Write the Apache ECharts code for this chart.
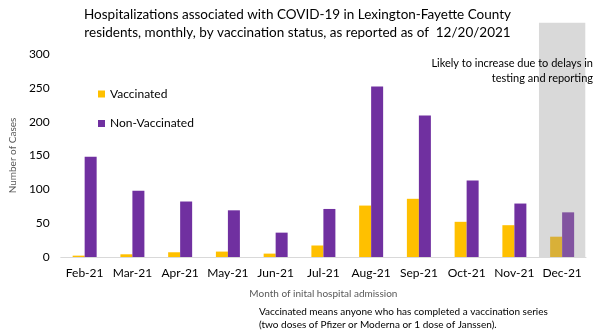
<!DOCTYPE html>
<html>
<head>
<meta charset="utf-8">
<script src="https://cdn.jsdelivr.net/npm/echarts@6/dist/echarts.min.js"></script>
<style>
html,body{margin:0;padding:0;background:#fff;}
#c{width:595px;height:332px;}
</style>
</head>
<body>
<div id="c"></div>
<script>
var months = ['Feb-21','Mar-21','Apr-21','May-21','Jun-21','Jul-21','Aug-21','Sep-21','Oct-21','Nov-21','Dec-21'];
var vaccinated = [2, 4, 7, 8, 5, 17, 76, 86, 52, 47, 30];
var nonVaccinated = [148, 98, 82, 69, 36, 71, 252, 209, 113, 79, 66];
var yTicks = [0, 50, 100, 150, 200, 250, 300];
var shadeMonth = 'Dec-21';
var shadeTop = 346;

var FONT = 'Lato';
var chart = echarts.init(document.getElementById('c'), null, {renderer:'canvas'});

var lastIdx = months.indexOf(shadeMonth);
function styled(arr, normal, faded){
  return arr.map(function(v,i){
    return i === lastIdx ? {value:v, itemStyle:{color:faded}} : {value:v, itemStyle:{color:normal}};
  });
}
var shade = months.map(function(m){ return m === shadeMonth ? shadeTop : null; });

chart.setOption({
  backgroundColor:'#fff',
  animation:false,
  textStyle:{fontFamily:FONT},
  title:[
    {text:'Hospitalizations associated with COVID-19 in Lexington-Fayette County', left:'center', top:3,
     textStyle:{fontFamily:FONT, fontSize:13.5, fontWeight:'normal', color:'#000'}},
    {text:'residents, monthly, by vaccination status, as reported as of  12/20/2021', left:'center', top:21,
     textStyle:{fontFamily:FONT, fontSize:13.5, fontWeight:'normal', color:'#000'}},
    {text:'Likely to increase due to delays in', left:588, top:53, textAlign:'right',
     textStyle:{fontFamily:FONT, fontSize:11, fontWeight:'normal', color:'#000'}},
    {text:'testing and reporting', left:588, top:68, textAlign:'right',
     textStyle:{fontFamily:FONT, fontSize:11, fontWeight:'normal', color:'#000'}},
    {text:'Vaccinated means anyone who has completed a vaccination series', left:254, top:302,
     textStyle:{fontFamily:FONT, fontSize:10, fontWeight:'normal', color:'#000'}},
    {text:'(two doses of Pfizer or Moderna or 1 dose of Janssen).', left:254, top:315,
     textStyle:{fontFamily:FONT, fontSize:10, fontWeight:'normal', color:'#000'}}
  ],
  legend:{
    orient:'vertical', left:93, top:83, itemWidth:7, itemHeight:7, itemGap:17.5,
    icon:'rect',
    data:['Vaccinated','Non-Vaccinated'],
    textStyle:{fontFamily:FONT, fontSize:12, color:'#000'}
  },
  grid:{left:55, right:9, top:54, bottom:75, containLabel:false},
  xAxis:[{
    type:'category', data:months,
    axisLine:{lineStyle:{color:'#D9D9D9'}},
    axisTick:{show:false},
    axisLabel:{fontFamily:FONT, fontSize:12, color:'#000', margin:10, interval:0},
    name:'Month of inital hospital admission', nameLocation:'middle', nameGap:32,
    nameTextStyle:{fontFamily:FONT, fontSize:10, color:'#595959'}
  },{
    type:'category', data:months, show:false
  }],
  yAxis:{
    type:'value', min:0, max:300, interval:50,
    axisLine:{show:false}, axisTick:{show:false},
    splitLine:{show:false},
    axisLabel:{fontFamily:FONT, fontSize:12, color:'#000', margin:11},
    name:'Number of Cases', nameLocation:'middle', nameGap:35,
    nameTextStyle:{fontFamily:FONT, fontSize:10, color:'#595959'}
  },
  series:[
    {name:'shade', type:'bar', xAxisIndex:1, data:shade, barWidth:'97%', clip:false, z:0,
     itemStyle:{color:'#D9D9D9'}, silent:true, legendHoverLink:false},
    {name:'Vaccinated', type:'bar', data:styled(vaccinated,'#FFC000','#D9B038'), barWidth:12, barGap:'0%', z:2,
     itemStyle:{color:'#FFC000'}},
    {name:'Non-Vaccinated', type:'bar', data:styled(nonVaccinated,'#7030A0','#8254A0'), barWidth:12, barGap:'0%', z:2,
     itemStyle:{color:'#7030A0'}}
  ]
});
</script>
</body>
</html>
